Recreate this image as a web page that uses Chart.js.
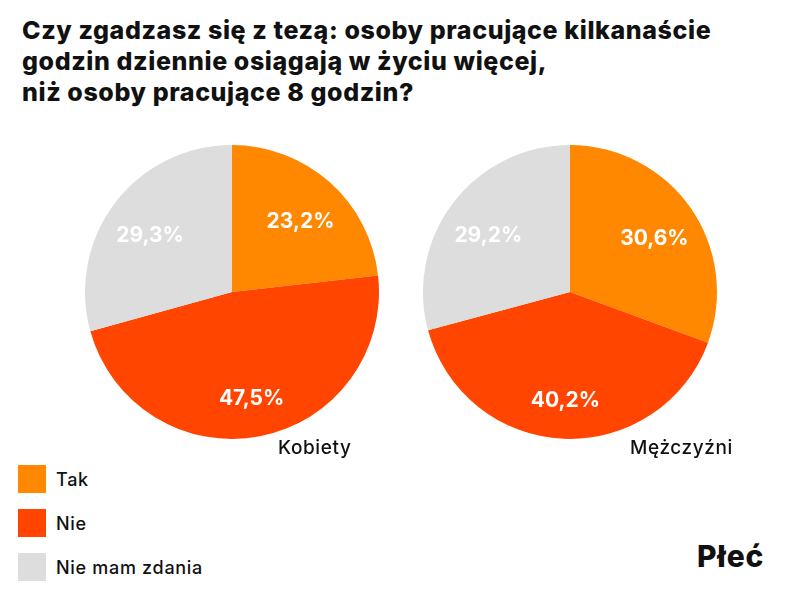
<!DOCTYPE html>
<html lang="pl">
<head>
<meta charset="utf-8">
<title>Czy zgadzasz się z tezą</title>
<script src="https://cdn.jsdelivr.net/npm/chart.js@4"></script>
<style>
    html, body { margin: 0; padding: 0; background: #fff; }
    body { width: 800px; height: 600px; position: relative; overflow: hidden; font-family: Inter, "Noto Sans", sans-serif; color: #111; }
    #title { position: absolute; left: 22px; top: 15px; font-size: 25px; font-weight: 800; line-height: 31px; letter-spacing: 0.6px; }
    .pie { position: absolute; top: 142px; width: 300px; height: 300px; }
    #pie-k { left: 82px; }
    #pie-m { left: 420px; }
    .group { position: absolute; top: 436px; font-size: 19px; font-weight: 500; letter-spacing: 0.6px; }
    #legend { position: absolute; left: 18px; top: 465px; }
    .item { display: flex; align-items: center; height: 28px; margin-bottom: 16px; font-size: 18px; font-weight: 500; letter-spacing: 0.7px; }
    .box { width: 28px; height: 28px; margin-right: 10px; }
    #dim { position: absolute; left: 697px; top: 538px; font-size: 30px; font-weight: 800; letter-spacing: 0.8px; }
</style>
</head>
<body>
<div id="title">Czy zgadzasz się z tezą: osoby pracujące kilkanaście<br>godzin dziennie osiągają w życiu więcej,<br>niż osoby pracujące 8 godzin?</div>
<div class="pie" id="pie-k"><canvas id="chart-k" width="300" height="300"></canvas></div>
<div class="pie" id="pie-m"><canvas id="chart-m" width="300" height="300"></canvas></div>
<div class="group" id="label-k" style="left:278px">Kobiety</div>
<div class="group" id="label-m" style="left:630px">Mężczyźni</div>
<div id="legend"></div>
<div id="dim">Płeć</div>
<script>
const categories = ['Tak', 'Nie', 'Nie mam zdania'];
const colors = ['#FF8800', '#FF4500', '#DDDDDD'];
const kobiety = [23.2, 47.5, 29.3];
const mezczyzni = [30.6, 40.2, 29.2];

// write the percentages inside each slice
const sliceLabels = {
    id: 'sliceLabels',
    afterDatasetsDraw(chart) {
        const ctx = chart.ctx;
        const meta = chart.getDatasetMeta(0);
        ctx.save();
        ctx.fillStyle = '#fff';
        ctx.font = '700 21px Inter, "Noto Sans", sans-serif';
        ctx.textAlign = 'center';
        ctx.textBaseline = 'middle';
        meta.data.forEach((arc, i) => {
            const p = arc.getProps(['x', 'y', 'startAngle', 'endAngle', 'outerRadius']);
            const mid = (p.startAngle + p.endAngle) / 2;
            const r = p.outerRadius * 0.7;
            const value = chart.data.datasets[0].data[i];
            ctx.fillText(value.toFixed(1).replace('.', ',') + '%', p.x + Math.cos(mid) * r, p.y + Math.sin(mid) * r + 6);
        });
        ctx.restore();
    }
};

function makePie(id, values) {
    new Chart(document.getElementById(id), {
        type: 'pie',
        data: {
            labels: categories,
            datasets: [{
                data: values,
                backgroundColor: colors,
                borderWidth: 0
            }]
        },
        options: {
            responsive: false,
            animation: false,
            layout: { padding: 3 },
            plugins: {
                legend: { display: false },
                tooltip: { enabled: false }
            }
        },
        plugins: [sliceLabels]
    });
}

makePie('chart-k', kobiety);
makePie('chart-m', mezczyzni);

const legend = document.getElementById('legend');
categories.forEach((name, i) => {
    const item = document.createElement('div');
    item.className = 'item';
    item.innerHTML = `<span class="box" style="background:${colors[i]}"></span>${name}`;
    legend.appendChild(item);
});
</script>
</body>
</html>
